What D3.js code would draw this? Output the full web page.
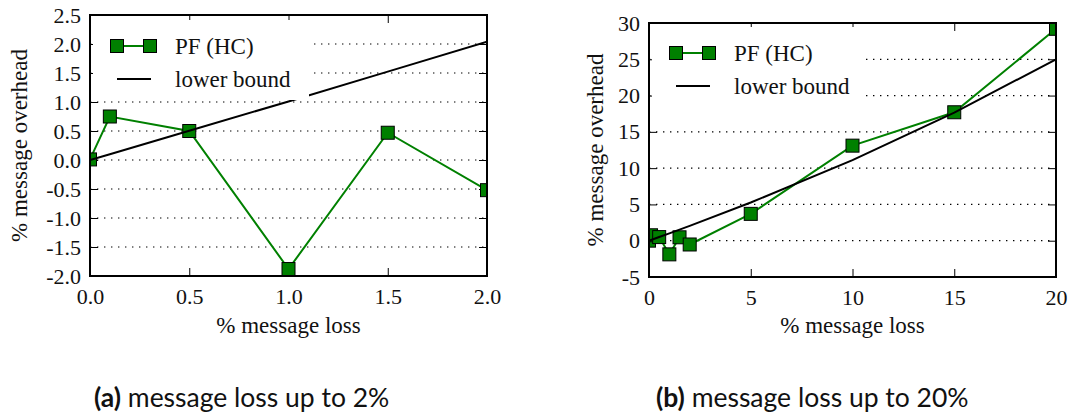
<!DOCTYPE html>
<html>
<head>
<meta charset="utf-8">
<script src="https://cdn.jsdelivr.net/npm/d3@7"></script>
<style>
  body { margin: 0; background: #fff; }
  svg { display: block; }
</style>
</head>
<body>
<div id="chart"></div>
<script>
// loss levels (%) and measured overhead (%)
const lossSmall  = [0, 0.1, 0.5, 1.0, 1.5, 2.0];
const pfSmall    = [0.01, 0.75, 0.5, -1.88, 0.47, -0.52];
const boundSmall = [0, 0.1, 0.503, 1.01, 1.523, 2.041];

const lossLarge  = [0, 0.1, 0.5, 1.0, 1.5, 2.0, 5, 10, 15, 20];
const pfLarge    = [0.01, 0.75, 0.5, -1.88, 0.47, -0.52, 3.7, 13.1, 17.7, 29.2];
const boundLarge = [0, 0.1, 0.503, 1.01, 1.523, 2.041, 5.26, 11.11, 17.65, 25.0];

const xTicksSmall = [0, 0.5, 1.0, 1.5, 2.0];
const yTicksSmall = [-2.0, -1.5, -1.0, -0.5, 0, 0.5, 1.0, 1.5, 2.0, 2.5];
const xTicksLarge = [0, 5, 10, 15, 20];
const yTicksLarge = [-5, 0, 5, 10, 15, 20, 25, 30];

const legendLabels = ["PF (HC)", "lower bound"];
const captions = [["(a)", " message loss up to 2%"], ["(b)", " message loss up to 20%"]];

const serif = '"Liberation Serif", "DejaVu Serif", serif';
const sans = 'Lato, "Open Sans", sans-serif';

const svg = d3.select("#chart").append("svg")
    .attr("width", 1070)
    .attr("height", 414);

const panels = [
  { id: "a", loss: lossSmall, pf: pfSmall, bound: boundSmall,
    xDom: [0, 2], yDom: [-2, 2.5], xTicks: xTicksSmall, yTicks: yTicksSmall, fmt: d => d.toFixed(1),
    left: 90, right: 487, top: 15, bottom: 276, ylabX: 27,
    leg: { x: 93, y: 20, w: 216, h: 80 }, cap: { x: 94, y: 407 } },
  { id: "b", loss: lossLarge, pf: pfLarge, bound: boundLarge,
    xDom: [0, 20], yDom: [-5, 30], xTicks: xTicksLarge, yTicks: yTicksLarge, fmt: d => String(d),
    left: 649, right: 1056, top: 23, bottom: 277, ylabX: 603,
    leg: { x: 652, y: 27, w: 213, h: 79 }, cap: { x: 656, y: 407 } }
];

panels.forEach(function(p, pi) {
  const x = d3.scaleLinear().domain(p.xDom).range([p.left, p.right]);
  const y = d3.scaleLinear().domain(p.yDom).range([p.bottom, p.top]);
  const w = p.right - p.left, h = p.bottom - p.top;
  const g = svg.append("g");

  g.append("clipPath").attr("id", "clip-" + p.id)
    .append("rect").attr("x", p.left).attr("y", p.top).attr("width", w).attr("height", h);

  // dotted horizontal grid
  g.append("g").selectAll("line").data(p.yTicks).enter().append("line")
      .attr("x1", p.left).attr("x2", p.right)
      .attr("y1", d => y(d)).attr("y2", d => y(d))
      .attr("stroke", "#000").attr("stroke-width", 1.2)
      .attr("stroke-dasharray", "1.4,5.6");

  // axes, ticks pointing inwards
  const axes = [
    g.append("g").attr("transform", "translate(0," + p.bottom + ")")
      .call(d3.axisBottom(x).tickValues(p.xTicks).tickFormat(p.fmt).tickSize(-8).tickSizeOuter(0).tickPadding(8)),
    g.append("g").attr("transform", "translate(" + p.left + ",0)")
      .call(d3.axisLeft(y).tickValues(p.yTicks).tickFormat(p.fmt).tickSize(-8).tickSizeOuter(0).tickPadding(9)),
    g.append("g").attr("transform", "translate(0," + p.top + ")")
      .call(d3.axisTop(x).tickValues(p.xTicks).tickFormat("").tickSize(-8).tickSizeOuter(0)),
    g.append("g").attr("transform", "translate(" + p.right + ",0)")
      .call(d3.axisRight(y).tickValues(p.yTicks).tickFormat("").tickSize(-8).tickSizeOuter(0))
  ];
  axes.forEach(function(a) {
    a.select(".domain").remove();
    a.attr("font-family", serif).attr("font-size", 22);
    a.selectAll(".tick line").attr("stroke", "#000").attr("stroke-width", 1);
    a.selectAll(".tick text").attr("fill", "#111").style("font-family", serif).style("font-size", "22px");
  });
  axes[0].selectAll(".tick text").attr("dy", "0.9em");

  // PF (HC) series
  const pts = p.loss.map((d, i) => [d, p.pf[i]]);
  const bnd = p.loss.map((d, i) => [d, p.bound[i]]);
  const line = d3.line().x(d => x(d[0])).y(d => y(d[1]));
  const data = g.append("g").attr("clip-path", "url(#clip-" + p.id + ")");
  data.append("path").datum(pts)
      .attr("d", line).attr("fill", "none")
      .attr("stroke", "#008000").attr("stroke-width", 2);
  data.selectAll("rect.mk").data(pts).enter().append("rect")
      .attr("class", "mk")
      .attr("x", d => x(d[0]) - 6.5).attr("y", d => y(d[1]) - 6.5)
      .attr("width", 13).attr("height", 13)
      .attr("fill", "#008000").attr("stroke", "#000").attr("stroke-width", 1);
  // lower bound
  data.append("path").datum(bnd)
      .attr("d", line).attr("fill", "none")
      .attr("stroke", "#000").attr("stroke-width", 2);

  // frame
  g.append("rect").attr("x", p.left).attr("y", p.top).attr("width", w).attr("height", h)
      .attr("fill", "none").attr("stroke", "#000").attr("stroke-width", 2);

  // legend
  const L = p.leg;
  const leg = g.append("g");
  leg.append("rect").attr("x", L.x).attr("y", L.y).attr("width", L.w).attr("height", L.h).attr("fill", "#fff");
  const r1 = L.y + 26, r2 = L.y + 59;
  leg.append("line").attr("x1", L.x + 24).attr("x2", L.x + 57).attr("y1", r1).attr("y2", r1)
      .attr("stroke", "#008000").attr("stroke-width", 2);
  leg.selectAll("rect.lm").data([L.x + 24, L.x + 57]).enter().append("rect")
      .attr("class", "lm")
      .attr("x", d => d - 6.5).attr("y", r1 - 6.5).attr("width", 13).attr("height", 13)
      .attr("fill", "#008000").attr("stroke", "#000").attr("stroke-width", 1);
  leg.append("line").attr("x1", L.x + 24).attr("x2", L.x + 58).attr("y1", r2).attr("y2", r2)
      .attr("stroke", "#000").attr("stroke-width", 2);
  leg.selectAll("text").data(legendLabels).enter().append("text")
      .attr("x", L.x + 82).attr("y", (d, i) => i === 0 ? r1 : r2)
      .attr("dy", "0.35em")
      .style("font-family", serif).style("font-size", "23px").attr("fill", "#111")
      .text(d => d);

  // axis labels
  g.append("text")
      .attr("x", (p.left + p.right) / 2).attr("y", 333)
      .attr("text-anchor", "middle")
      .style("font-family", serif).style("font-size", "23px").attr("fill", "#111")
      .text("% message loss");
  g.append("text")
      .attr("transform", "translate(" + p.ylabX + "," + ((p.top + p.bottom) / 2) + ") rotate(-90)")
      .attr("text-anchor", "middle")
      .style("font-family", serif).style("font-size", "23px").attr("fill", "#111")
      .text("% message overhead");

  // caption
  const c = captions[pi];
  const ct = g.append("text").attr("x", p.cap.x).attr("y", p.cap.y)
      .style("font-family", sans).style("font-size", "26.5px").attr("fill", "#111");
  ct.append("tspan").attr("font-weight", "bold").text(c[0]);
  ct.append("tspan").text(c[1]);
});
</script>
</body>
</html>
